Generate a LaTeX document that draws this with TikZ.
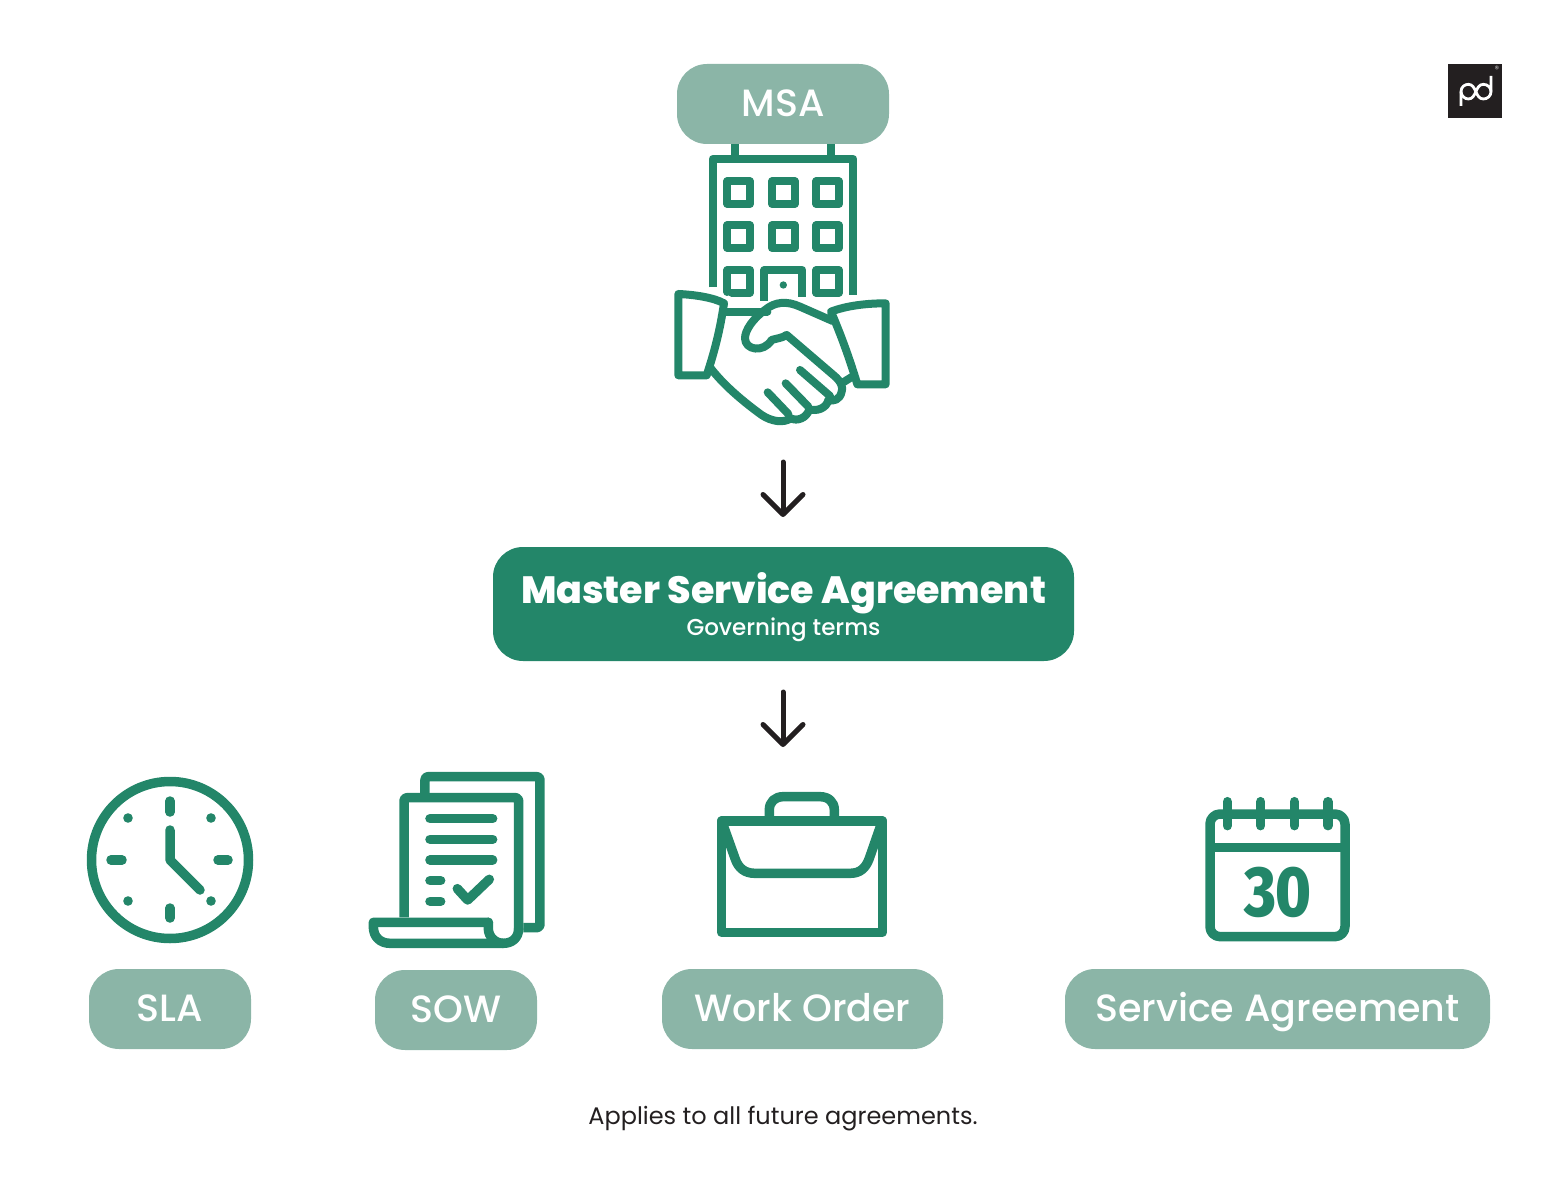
\documentclass[tikz,border=0pt]{standalone}
\usepackage{fontspec}
\setmainfont{Poppins}
\newfontfamily\pillfont{Poppins Medium}
\newfontfamily\headfont{Poppins ExtraBold}
\newfontfamily\numfont{Fira Sans ExtraBold}
\usetikzlibrary{arrows.meta,
                positioning}
\definecolor{msa-green}{HTML}{238669}
\definecolor{msa-pale}{HTML}{8BB5A7}
\definecolor{msa-ink}{HTML}{231F20}
\tikzset{pill/.style =
   {rectangle,
    fill=msa-pale,
    text=white,
    rounded corners=30pt,
    text centered,
    inner sep=0pt,
    text height=33pt,
    text depth=8pt,
    minimum height=80pt,
    font=\pillfont\fontsize{38}{42}\selectfont}}
\tikzset{main-block/.style =
   {rectangle,
    fill=msa-green,
    text=white,
    rounded corners=30pt,
    align=center,
    inner sep=0pt,
    minimum width=581pt,
    minimum height=114pt}}
\tikzset{icon/.style =
   {draw=msa-green,
    line width=8pt,
    line join=round,
    line cap=round}}
\tikzset{icon-heavy/.style = {icon, line width=9.5pt}}
\tikzset{arrow/.style =
   {draw=msa-ink,
    line width=5pt,
    -{Straight Barb[round,length=20pt,width=40pt,line width=5pt]}}}
\begin{document}
\begin{tikzpicture}[x=1pt, y=-1pt]

    \useasboundingbox (0,0) rectangle (1566,1198);

    % labels
    \node [pill, minimum width=212pt] (msa)  at (783,104)    {MSA};
    \node [main-block]                (main) at (783.5,604)
    {{\headfont\fontsize{38}{44}\selectfont\rule{0pt}{37pt}Master Service Agreement}\\[3pt]
     {\pillfont\fontsize{23}{26}\selectfont Governing terms}};
    \node [pill, minimum width=162pt] (sla)  at (170,1009)   {SLA};
    \node [pill, minimum width=162pt] (sow)  at (456,1010)   {SOW};
    \node [pill, minimum width=281pt] (work) at (802.5,1009) {Work Order};
    \node [pill, minimum width=425pt] (serv) at (1277.5,1009) {Service Agreement};
    \node [text=msa-ink, inner sep=0pt, font=\fontsize{24}{30}\selectfont]
          (note) at (783,1119) {Applies to all future agreements.};

    % arrows
    \coordinate (top-from) at (783,462);
    \coordinate (top-to)   at (783,517);
    \coordinate (low-from) at (783,692);
    \coordinate (low-to)   at (783,747);
    \draw [arrow, line cap=round] (top-from) -- (top-to);
    \draw [arrow, line cap=round] (low-from) -- (low-to);

    % building and handshake
    \begin{scope}[shift={(660,140)}, x=0.3333pt, y=-0.3333pt]
        \draw [icon, line cap=butt] (225,12) -- (225,57);
        \draw [icon, line cap=butt] (513,12) -- (513,57);
        \draw [icon, line cap=butt] (158,442) -- (158,57) -- (580,57) -- (580,466);
        \foreach \col in {236,370,503}
            \foreach \row in {158,290}
                \draw [icon] (\col-34,\row-34) rectangle (\col+34,\row+34);
        \draw [icon] (202,456) -- (202,390) -- (270,390) -- (270,458) -- (215,458);
        \draw [icon] (469,390) rectangle (537,458);
        \draw [icon, line cap=butt] (313,482) -- (313,390) -- (427,390) -- (427,470);
        \fill [msa-green] (370,435) circle (11);
        % cuffs
        \draw [icon] (55,462) .. controls (100,464) and (160,472) .. (192,490)
              .. controls (180,570) and (165,630) .. (140,706) -- (55,706) -- cycle;
        \draw [icon] (513,515) .. controls (560,497) and (620,490) .. (677,490)
              -- (677,733) -- (592,733) .. controls (570,660) and (545,590) .. (513,515) -- cycle;
        % hands
        \draw [icon] (192,515) -- (322,515);
        \draw [icon] (518,543) -- (420,500)
              .. controls (380,482) and (345,485) .. (315,510)
              .. controls (280,535) and (255,570) .. (255,595)
              .. controls (255,630) and (310,640) .. (335,600)
              .. controls (350,595) and (365,595) .. (380,585)
              -- (520,705) .. controls (545,725) and (550,745) .. (545,755)
              .. controls (540,780) and (520,785) .. (505,780)
              .. controls (500,805) and (470,815) .. (448,808)
              .. controls (440,835) and (410,845) .. (393,835)
              .. controls (370,850) and (335,845) .. (305,825)
              .. controls (250,785) and (190,735) .. (150,682);
        \draw [icon] (323,757) -- (385,822);
        \draw [icon] (377,730) -- (445,800);
        \draw [icon] (420,690) -- (510,768);
        \draw [icon] (548,728) -- (582,707);
    \end{scope}

    % clock
    \draw [icon-heavy] (170,860) circle (78.5);
    \draw [icon-heavy] (170,801) -- (170,812);
    \draw [icon-heavy] (170,908) -- (170,918);
    \draw [icon-heavy] (111,860) -- (122,860);
    \draw [icon-heavy] (218,860) -- (228,860);
    \draw [icon-heavy, line join=round] (170,830) -- (170,860) -- (200,890);
    \foreach \dotx/\doty in {128/818, 211/818, 128/901, 211/901}
        \fill [msa-green] (\dotx,\doty) circle (4.8);

    % statement of work
    \begin{scope}[shift={(360,760)}, x=0.3333pt, y=-0.3333pt]
        \draw [icon-heavy, line cap=butt, rounded corners=3pt]
              (195,100) -- (195,50) -- (540,50) -- (540,503) -- (490,503);
        \draw [icon-heavy, line cap=butt, rounded corners=3pt]
              (132,472) -- (132,113) -- (476,113) -- (476,510);
        \draw [icon-heavy] (385,487) -- (40,487) -- (40,500)
              .. controls (40,530) and (60,550) .. (90,550) -- (430,550)
              .. controls (455,550) and (476,535) .. (476,505);
        \draw [icon-heavy] (385,487) -- (385,505)
              .. controls (385,530) and (405,550) .. (430,550);
        \foreach \row in {176,238,300}
            \draw [icon-heavy] (210,\row) -- (398,\row);
        \foreach \row in {362,424}
            \draw [icon-heavy] (210,\row) -- (242,\row);
        \draw [icon-heavy] (292,386) -- (323,420) -- (388,358);
    \end{scope}

    % briefcase
    \begin{scope}[shift={(700,780)}, x=0.3333pt, y=-0.3333pt]
        \draw [icon-heavy] (65,123) rectangle (547,457);
        \draw [icon-heavy, line cap=butt] (208,123) -- (208,90)
              .. controls (208,65) and (225,50) .. (250,50) -- (360,50)
              .. controls (385,50) and (403,65) .. (403,90) -- (403,123);
        \draw [icon-heavy] (65,123) -- (105,235)
              .. controls (115,265) and (135,280) .. (165,280) -- (450,280)
              .. controls (480,280) and (497,265) .. (508,235) -- (547,123);
    \end{scope}

    % calendar
    \begin{scope}[shift={(1190,785)}, x=0.3333pt, y=-0.3333pt]
        \draw [icon-heavy, rounded corners=10pt] (60,87) rectangle (465,455);
        \draw [icon-heavy, line cap=butt] (60,187) -- (465,187);
        \foreach \col in {112,212,313,414}
            \draw [icon-heavy] (\col,50) -- (\col,122);
    \end{scope}
    \node [text=msa-green, inner sep=0pt, xscale=0.92, yscale=1.08,
           font=\numfont\fontsize{66}{70}\selectfont]
          (days) at (1278,892) {30};

    % logo
    \fill [msa-ink] (1448,64) rectangle (1502,118);
    \begin{scope}[shift={(1430,50)}, x=0.3333pt, y=-0.3333pt]
        \draw [white, line width=2.8pt, line cap=butt]
              (93,168) -- (93,125)
              .. controls (93,110) and (105,103) .. (115,103)
              .. controls (140,103) and (135,147) .. (160,147)
              .. controls (172,147) and (183,138) .. (183,125) -- (183,78);
        \draw [white, line width=2.8pt, line cap=butt]
              (93,125) .. controls (93,138) and (105,147) .. (115,147)
              .. controls (140,147) and (135,103) .. (160,103)
              .. controls (172,103) and (183,112) .. (183,125);
    \end{scope}
    \node [text=white!75!msa-ink, inner sep=0pt, font=\fontsize{9}{9}\selectfont]
          (reg) at (1497,69) {®};

\end{tikzpicture}
\end{document}
